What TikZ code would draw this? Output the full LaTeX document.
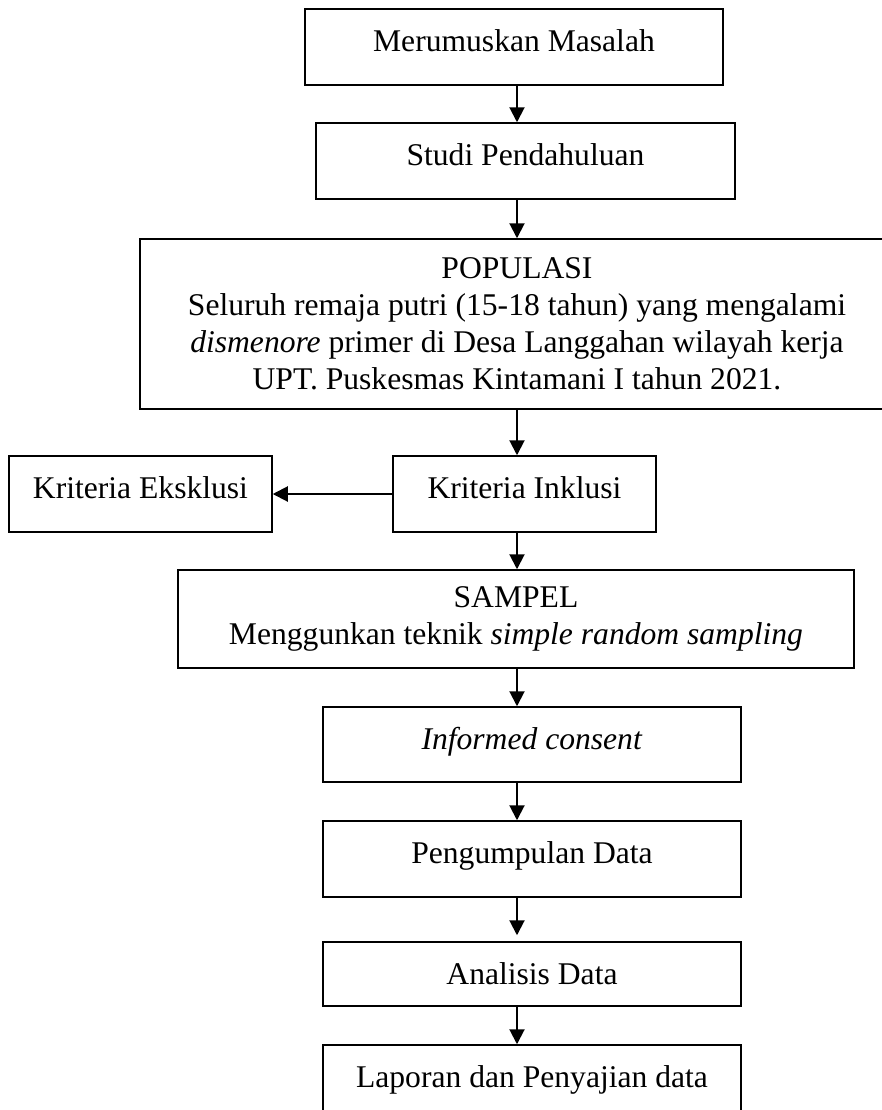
\documentclass[tikz,border=0pt]{standalone}
\usepackage{fontspec}
\setmainfont{Liberation Serif}
\usepackage{tikz}
\usetikzlibrary{positioning,arrows.meta}

\begin{document}
\begin{tikzpicture}[
    x=0.5pt, y=-0.5pt,
    box/.style={rectangle, draw=black, line width=0.75pt, inner sep=0pt, align=center, font=\fontsize{15.8}{18.5}\selectfont},
    onebox/.style={box, text height=11.5pt, text depth=7pt},
    flow/.style={-{Triangle[length=7.5pt, width=7.5pt]}, line width=1pt}
]
    \useasboundingbox (0,0) rectangle (882,1110);
    \clip (0,0) rectangle (882,1110);
    \coordinate (spine) at (517,0);

    \node [onebox, minimum width=209pt, minimum height=38pt] (rumusan) at (514,47) {Merumuskan Masalah};
    \node [onebox, minimum width=209.5pt, minimum height=38pt] (studi) at (525.5,161) {Studi Pendahuluan};
    \node [box, minimum width=377pt, minimum height=85pt] (populasi) at (517,324) {POPULASI\\
        Seluruh remaja putri (15-18 tahun) yang mengalami\\
        \textit{dismenore} primer di Desa Langgahan wilayah kerja\\
        UPT. Puskesmas Kintamani I tahun 2021.};
    \node [onebox, minimum width=131.5pt, minimum height=38pt] (inklusi) at (524.5,494) {Kriteria Inklusi};
    \node [onebox, minimum width=131.5pt, minimum height=38pt] (eksklusi) at (140.5,494) {Kriteria Eksklusi};
    \node [box, minimum width=338pt, minimum height=49pt] (sampel) at (516,619) {SAMPEL\\
        Menggunkan teknik \textit{simple random sampling}};
    \node [onebox, minimum width=209pt, minimum height=37.5pt] (consent) at (532,744.5) {\textit{Informed consent}};
    \node [onebox, minimum width=209pt, minimum height=38pt] (kumpul) at (532,859) {Pengumpulan Data};
    \node [box, minimum width=209pt, minimum height=32pt] (analisis) at (532,974) {Analisis Data};
    \node [onebox, minimum width=209pt, minimum height=38pt] (laporan) at (532,1083) {Laporan dan Penyajian data};

    \draw [flow] (rumusan.south -| spine) -- (studi.north -| spine);
    \draw [flow] (studi.south -| spine) -- (populasi.north -| spine);
    \draw [flow] (populasi.south -| spine) -- (inklusi.north -| spine);
    \draw [flow] (inklusi.west) -- (eksklusi.east);
    \draw [flow] (inklusi.south -| spine) -- (sampel.north -| spine);
    \draw [flow] (sampel.south -| spine) -- (consent.north -| spine);
    \draw [flow] (consent.south -| spine) -- (kumpul.north -| spine);
    \draw [flow, shorten >=3pt] (kumpul.south -| spine) -- (analisis.north -| spine);
    \draw [flow] (analisis.south -| spine) -- (laporan.north -| spine);
\end{tikzpicture}
\end{document}
